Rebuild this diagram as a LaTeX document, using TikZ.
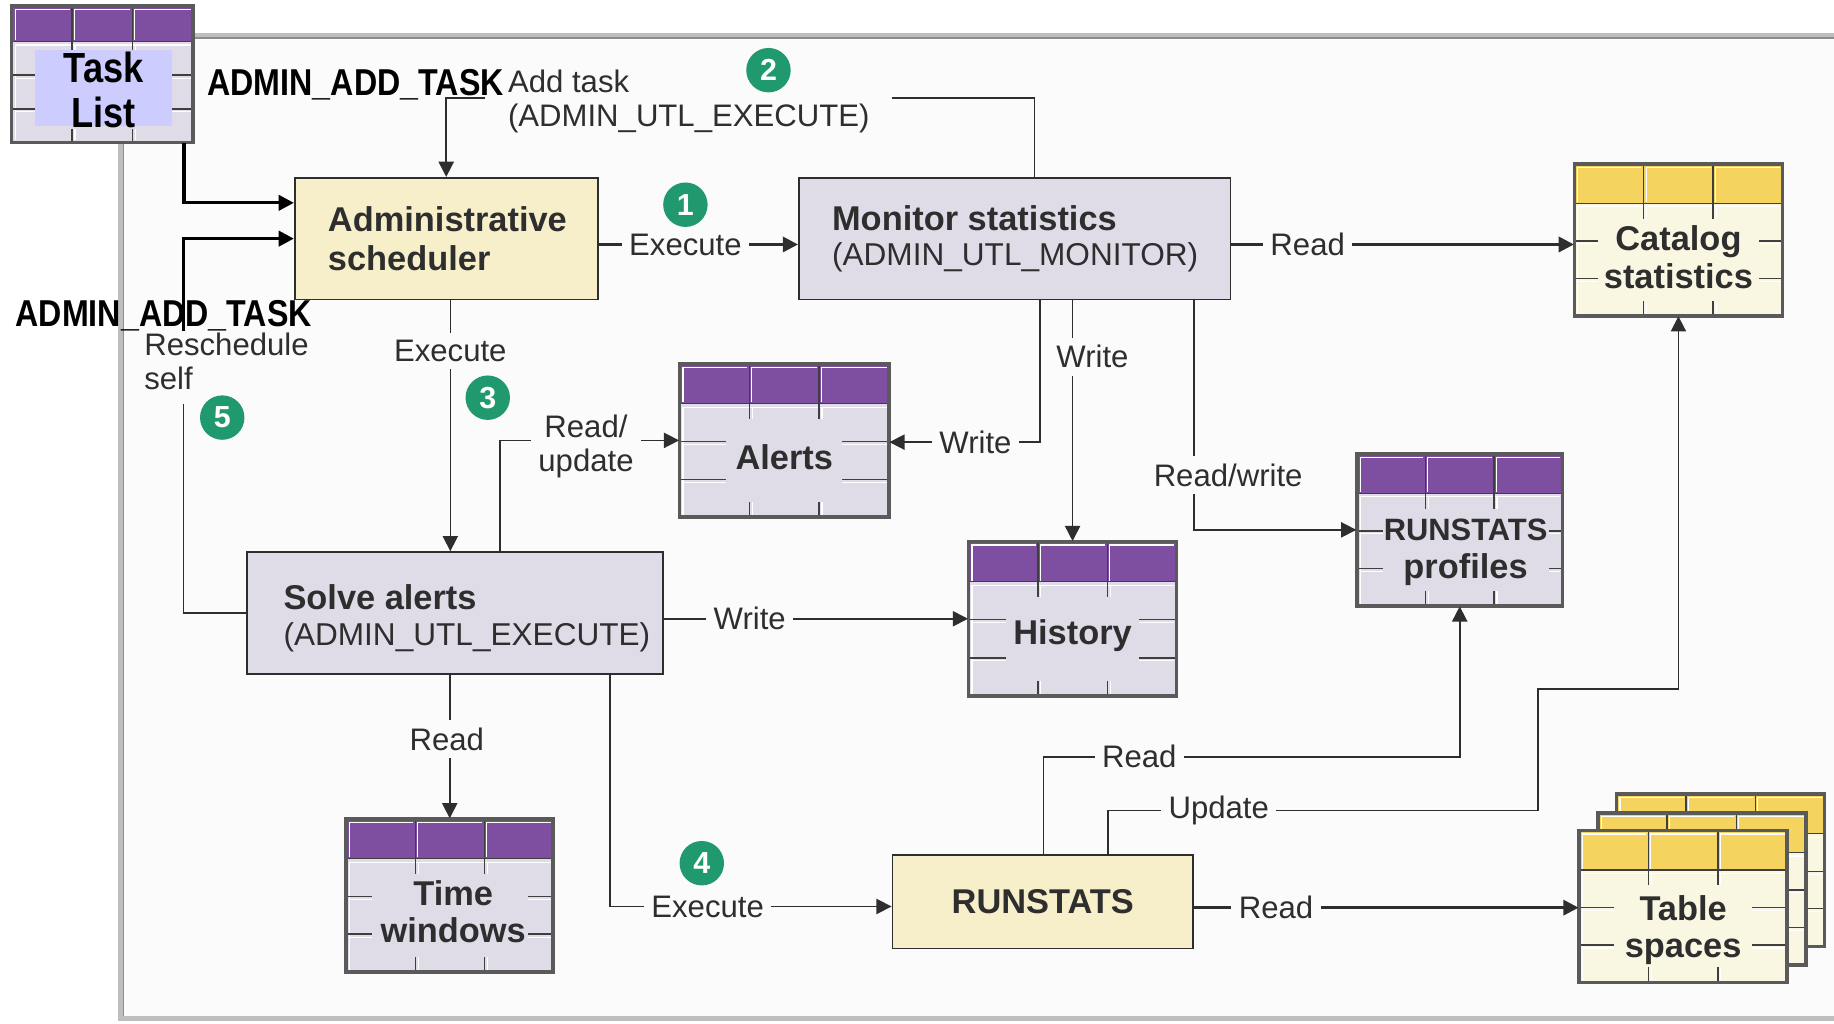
\documentclass[tikz,border=0pt]{standalone}
\usepackage{fontspec}
\setmainfont{Liberation Sans}
\newfontfamily\narrowfont[FakeStretch=0.86]{Liberation Sans}
\usetikzlibrary{arrows.meta,calc}

\definecolor{purp}{HTML}{7E4FA0}
\definecolor{lav}{HTML}{DFDCE8}
\definecolor{gold}{HTML}{F4D35E}
\definecolor{cream}{HTML}{F9F6E2}
\definecolor{procY}{HTML}{F6EFCA}
\definecolor{procG}{HTML}{DFDCE8}
\definecolor{dsborder}{HTML}{5A5A5A}
\definecolor{txt}{HTML}{2E2E2E}
\definecolor{grn}{HTML}{21996E}
\definecolor{framec}{HTML}{BEBEBE}
\definecolor{tlabel}{HTML}{CCCCFF}

\tikzset{
 lbl/.style={font=\fontsize{13.3}{14.5}\selectfont, text=txt, inner sep=3pt, align=center},
 proc/.style={draw=txt, line width=0.75pt, inner sep=0pt},
 ln/.style={line width=0.7pt, draw=txt},
 thk/.style={line width=1.2pt, draw=txt},
 arr/.style={-{Triangle[length=6.5pt,width=6.5pt]}},
 blk/.style={line width=1.4pt, draw=black},
 numc/.style={circle, fill=grn, text=white, minimum size=19pt, inner sep=0pt, font=\fontsize{13}{13}\selectfont\bfseries},
 boxtxt/.style={font=\fontsize{14.7}{16}\selectfont\bfseries, text=txt, align=center, inner sep=0pt},
 bigtxt/.style={font=\fontsize{16}{17}\selectfont\narrowfont\bfseries, text=black, inner sep=0pt},
}

% name, x1, y1, x2, y2, header colour, body colour, left tick, right tick
\newcommand{\dstore}[9]{%
 \pgfmathsetmacro{\dsw}{#4-(#2)}%
 \pgfmathsetmacro{\dsh}{#5-(#3)}%
 \pgfmathsetmacro{\dshb}{#3+0.26*\dsh}%
 \pgfmathsetmacro{\dsca}{#2+\dsw/3}%
 \pgfmathsetmacro{\dscb}{#2+2*\dsw/3}%
 \pgfmathsetmacro{\dsra}{\dshb+(#5-\dshb)/3}%
 \pgfmathsetmacro{\dsrb}{\dshb+2*(#5-\dshb)/3}%
 \pgfmathsetmacro{\dsvt}{0.1*\dsh}%
 \pgfmathsetmacro{\dswp}{\dsw*0.5}%
 \pgfmathsetmacro{\dshp}{\dsh*0.5}%
 \fill[#7] (#2,#3) rectangle (#4,#5);
 \fill[#6] (#2,#3) rectangle (#4,\dshb);
 \draw[white, line width=0.5pt] (#2+3,\dshb-1) |- (\dsca-2,#3+3)
   (\dsca+2,\dshb-1) |- (\dscb-2,#3+3) (\dscb+2,\dshb-1) |- (#4-2,#3+3);
 \draw[white, line width=0.5pt] (#2+3,#5-2) -- (#2+3,\dshb+3) -- (#4-2,\dshb+3)
   (\dsca+2.5,\dshb+3) -- (\dsca+2.5,\dshb+\dsvt) (\dscb+2.5,\dshb+3) -- (\dscb+2.5,\dshb+\dsvt)
   (\dsca+2.5,#5-2) -- (\dsca+2.5,#5-\dsvt) (\dscb+2.5,#5-2) -- (\dscb+2.5,#5-\dsvt)
   (#2+3,\dsra+2.5) -- (#2+#8,\dsra+2.5) (#2+3,\dsrb+2.5) -- (#2+#8,\dsrb+2.5)
   (#4-2,\dsra+2.5) -- (#4-#9,\dsra+2.5) (#4-2,\dsrb+2.5) -- (#4-#9,\dsrb+2.5);
 \draw[dsborder!70!black, line width=0.6pt] (#2,\dshb) -- (#4,\dshb)
   (\dsca,#3) -- (\dsca,\dshb+\dsvt) (\dscb,#3) -- (\dscb,\dshb+\dsvt)
   (\dsca,#5) -- (\dsca,#5-\dsvt) (\dscb,#5) -- (\dscb,#5-\dsvt)
   (#2,\dsra) -- (#2+#8,\dsra) (#2,\dsrb) -- (#2+#8,\dsrb)
   (#4,\dsra) -- (#4-#9,\dsra) (#4,\dsrb) -- (#4-#9,\dsrb);
 \draw[dsborder, line width=1.5pt] (#2,#3) rectangle (#4,#5);
 \node[inner sep=0pt, minimum width=\dswp pt, minimum height=\dshp pt] (#1) at ({(#2+#4)/2},{(#3+#5)/2}) {};
}

\begin{document}
\begin{tikzpicture}[x=0.5pt,y=-0.5pt]
\useasboundingbox (0,0) rectangle (1568,875);
\fill[white] (0,0) rectangle (1568,875);
\fill[black!1.5] (103,30) rectangle (1568,871);
\draw[framec, line width=2.2pt] (165,30) -- (1568,30);
\draw[framec, line width=2.2pt] (103,122) -- (103,871) -- (1568,871);
\draw[black!45, line width=0.5pt] (165,32.5) -- (1568,32.5);
\draw[black!45, line width=0.5pt] (105.5,122) -- (105.5,868.5);

% data stores
\dstore{tasklist}{10}{5}{165}{122}{purp}{lav}{20}{20}
\dstore{cat}{1346}{140}{1524}{270}{gold}{cream}{20}{20}
\dstore{alerts}{581}{311}{760}{442}{purp}{lav}{40}{40}
\dstore{hist}{828}{463}{1006}{595}{purp}{lav}{32}{32}
\dstore{prof}{1160}{388}{1336}{518}{purp}{lav}{22}{12}
\dstore{timew}{296}{700}{473}{831}{purp}{lav}{22}{22}
\dstore{tbl3}{1382}{679}{1560}{809}{gold}{cream}{30}{30}
\dstore{tbl2}{1366}{695}{1544}{825}{gold}{cream}{30}{30}
\dstore{tbl}{1350}{710}{1528}{840}{gold}{cream}{30}{30}

\node[fill=tlabel, inner sep=0pt, minimum width=58.5pt, minimum height=32.5pt] (tlbg) at (88.5,75.5) {};
\node[font=\fontsize{18}{19}\selectfont\narrowfont\bfseries, align=center, inner sep=0pt] (tltxt) at (88.5,77) {Task\\List};

\node[boxtxt] (cattxt) at (cat) [yshift=-7.5pt] {\fontsize{14.7}{15.5}\selectfont Catalog\\statistics};
\node[boxtxt] (alertstxt) at (alerts) [yshift=-7pt] {Alerts};
\node[boxtxt] (histtxt) at (hist) [yshift=-7pt] {History};
\node[boxtxt] (proftxt) at (prof) [xshift=2.5pt, yshift=-9.5pt] {\fontsize{13.2}{14.5}\selectfont RUNSTATS\\profiles};
\node[boxtxt] (timewtxt) at (timew) [xshift=1.5pt, yshift=-7pt] {Time\\windows};
\node[boxtxt] (tbltxt) at (tbl) [yshift=-10pt] {Table\\spaces};

% process boxes
\node[proc, fill=procY, minimum width=129.5pt, minimum height=52pt] (adm) at (381.5,204) {};
\node[proc, fill=procG, minimum width=184.5pt, minimum height=52pt] (mon) at (867.5,204) {};
\node[proc, fill=procG, minimum width=178pt, minimum height=52pt] (solve) at (389,524) {};
\node[proc, fill=procY, minimum width=128.5pt, minimum height=40pt] (runst) at (891.5,771) {};

\node[boxtxt, anchor=west, align=left, font=\fontsize{14.7}{16.5}\selectfont\bfseries] (admtxt) at (280,204) {Administrative\\scheduler};
\node[anchor=west, align=left, inner sep=0pt, text=txt, font=\fontsize{13.5}{15}\selectfont] (montxt) at (711,204.5) {{\fontsize{14.7}{15}\selectfont\bfseries Monitor statistics}\\(ADMIN\_UTL\_MONITOR)};
\node[anchor=west, align=left, inner sep=0pt, text=txt, font=\fontsize{13.5}{15.5}\selectfont] (solvetxt) at (242,528.5) {{\fontsize{14.7}{15.5}\selectfont\bfseries Solve alerts}\\(ADMIN\_UTL\_EXECUTE)};
\node[boxtxt] (runsttxt) at (runst) {RUNSTATS};

% number badges
\node[numc] (c1) at (586,175) {1};
\node[numc] (c2) at (657,60) {2};
\node[numc] (c3) at (417,340) {3};
\node[numc] (c4) at (600,738) {4};
\node[numc] (c5) at (190,357) {5};

% labels
\node[bigtxt, anchor=west] (aat1) at (177,72) {ADMIN\_ADD\_TASK};
\node[bigtxt, anchor=west] (aat2) at (13,270) {ADMIN\_ADD\_TASK};
\node[lbl, anchor=west, align=left] (addtask) at (428,87) {Add task\\(ADMIN\_UTL\_EXECUTE)};
\node[lbl, anchor=west, align=left] (rs) at (117,309) {Reschedule\\self};
\node[lbl] (ex1) at (586,209) {Execute};
\node[lbl] (rd1) at (1118,209) {Read};
\node[lbl] (wr2) at (834,378) {Write};
\node[lbl] (wr3) at (934,305) {Write};
\node[lbl] (rw) at (1050,406) {Read/write};
\node[lbl] (ex3) at (385,300) {Execute};
\node[lbl] (ru) at (501,382) {Read/\\update};
\node[lbl] (wr4) at (641,529) {Write};
\node[lbl] (rd5) at (382,632) {Read};
\node[lbl] (ex4) at (605,775) {Execute};
\node[lbl] (rd6) at (974,647) {Read};
\node[lbl] (up) at (1042,693) {Update};
\node[lbl] (rd7) at (1091,776) {Read};

% free ends
\coordinate (rsTop) at (157,283);
\coordinate (rsBot) at (157,345);
\coordinate (atR) at (763,84);
\coordinate (atL) at (415,84);
\coordinate (upBend) at (1315,589);

% connectors
\draw[blk, arr] ($(tasklist.south east)+(-8,0)$) |- ($(adm.north west)!0.21!(adm.south west)$);
\draw[blk, arr] (rsTop) |- (adm.west);
\draw[ln] (solve.west) -| (rsBot);

\draw[ln] ($(mon.north west)!0.546!(mon.north east)$) |- (atR);
\draw[ln, arr] (atL) -| (adm.north);

\draw[thk] (adm.east |- ex1) -- (ex1.west);
\draw[thk, arr] (ex1.east) -- (mon.west |- ex1);

\draw[thk] (mon.east |- rd1) -- (rd1.west);
\draw[thk, arr] (rd1.east) -- (cat.west |- rd1);

\draw[ln] ($(mon.south west)+(207,0)$) |- (wr2.east);
\draw[ln, arr] (wr2.west) -- (alerts.east |- wr2);

\draw[ln] (hist.north |- mon.south) -- (hist.north |- wr3.north);
\draw[ln, arr] (hist.north |- wr3.south) -- (hist.north);

\coordinate (rwx) at ($(mon.south east)+(-32,0)$);
\draw[ln] (rwx) -- (rwx |- rw.north);
\draw[ln, arr] (rwx |- rw.south) |- (prof.west);

\draw[ln] (ex3.north |- adm.south) -- (ex3.north);
\draw[ln, arr] (ex3.south) -- (ex3.south |- solve.north);

\draw[ln] ($(solve.north west)+(217,0)$) |- (ru.west |- alerts.west);
\draw[ln, arr] (ru.east |- alerts.west) -- (alerts.west);

\draw[ln] (solve.east |- wr4) -- (wr4.west);
\draw[ln, arr] (wr4.east) -- (hist.west |- wr4);

\draw[ln] (timew.north |- solve.south) -- (timew.north |- rd5.north);
\draw[ln, arr] (timew.north |- rd5.south) -- (timew.north);

\draw[ln] ($(solve.south east)+(-46,0)$) |- (ex4.west);
\draw[ln, arr] (ex4.east) -- (runst.west |- ex4);

\draw[ln] ($(runst.north west)+(130,0)$) |- (rd6.west);
\draw[ln, arr] (rd6.east) -| (prof.south);

\draw[ln] ($(runst.north west)+(185,0)$) |- (up.west);
\draw[ln, arr] (up.east) -| (upBend) -| (cat.south);

\draw[thk] (runst.east |- rd7) -- (rd7.west);
\draw[thk, arr] (rd7.east) -- (tbl.west |- rd7);
\end{tikzpicture}
\end{document}
